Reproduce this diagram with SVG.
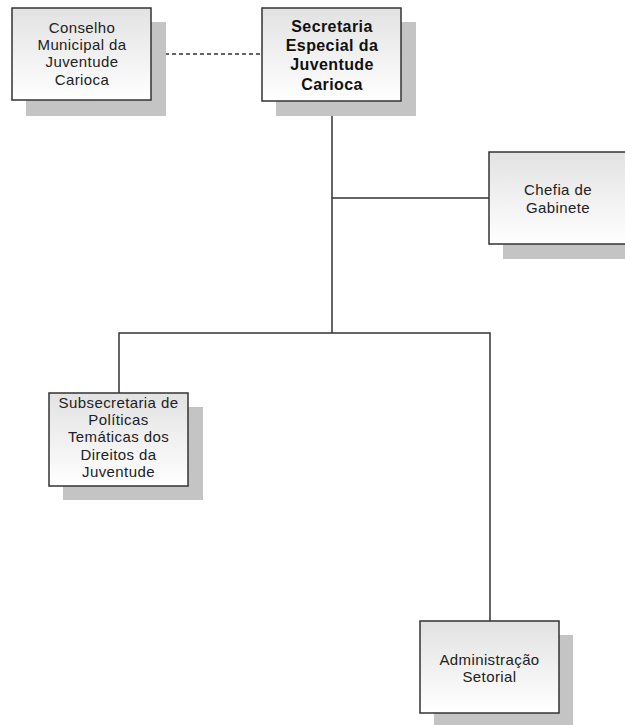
<svg xmlns="http://www.w3.org/2000/svg" width="625" height="725" viewBox="0 0 625 725">
<defs>
<linearGradient id="g" x1="0" y1="0" x2="0" y2="1">
<stop offset="0" stop-color="#e2e2e2"/>
<stop offset="1" stop-color="#ffffff"/>
</linearGradient>
</defs>
<style>
.sh{fill:#c4c4c4}
.bx{fill:url(#g);stroke:#333;stroke-width:1.5}
.t{font-family:"Liberation Sans",Arial,sans-serif;font-size:15px;fill:#222;text-anchor:middle;letter-spacing:0.4px}
.tb{font-family:"Liberation Sans",Arial,sans-serif;font-size:16px;font-weight:bold;fill:#111;text-anchor:middle;letter-spacing:0.4px}
.ln{fill:none;stroke:#333;stroke-width:1.5}
</style>
<rect width="625" height="725" fill="#fff"/>
<g id="connectors">
<line class="ln" x1="151" y1="54" x2="262" y2="54" stroke-dasharray="4 3"/>
<line class="ln" x1="332" y1="101" x2="332" y2="333" stroke-width="2"/>
<line class="ln" x1="332" y1="198" x2="489" y2="198"/>
<polyline class="ln" points="119,393 119,333 490,333 490,621"/>
</g>
<g id="conselho">
<rect class="sh" x="26" y="22" width="140" height="94"/>
<rect class="bx" x="12" y="8" width="139" height="92"/>
<text class="t" x="82" y="33">Conselho</text>
<text class="t" x="82" y="50">Municipal da</text>
<text class="t" x="82" y="67">Juventude</text>
<text class="t" x="82" y="85">Carioca</text>
</g>
<g id="secretaria">
<rect class="sh" x="276" y="22" width="140" height="94"/>
<rect class="bx" x="262" y="8" width="139" height="93"/>
<text class="tb" x="332" y="32">Secretaria</text>
<text class="tb" x="332" y="51">Especial da</text>
<text class="tb" x="332" y="70">Juventude</text>
<text class="tb" x="332" y="90">Carioca</text>
</g>
<g id="chefia">
<rect class="sh" x="503" y="166" width="140" height="93"/>
<rect class="bx" x="489" y="152" width="140" height="92"/>
<text class="t" x="558" y="195">Chefia de</text>
<text class="t" x="558" y="213">Gabinete</text>
</g>
<g id="subsecretaria">
<rect class="sh" x="63" y="407" width="140" height="93"/>
<rect class="bx" x="49" y="393" width="139" height="93"/>
<text class="t" x="118.5" y="408">Subsecretaria de</text>
<text class="t" x="118.5" y="425">Políticas</text>
<text class="t" x="118.5" y="442">Temáticas dos</text>
<text class="t" x="118.5" y="460">Direitos da</text>
<text class="t" x="118.5" y="477">Juventude</text>
</g>
<g id="administracao">
<rect class="sh" x="434" y="635" width="139" height="92"/>
<rect class="bx" x="420" y="621" width="139" height="92"/>
<text class="t" x="489.5" y="665">Administração</text>
<text class="t" x="489.5" y="682">Setorial</text>
</g>
</svg>
